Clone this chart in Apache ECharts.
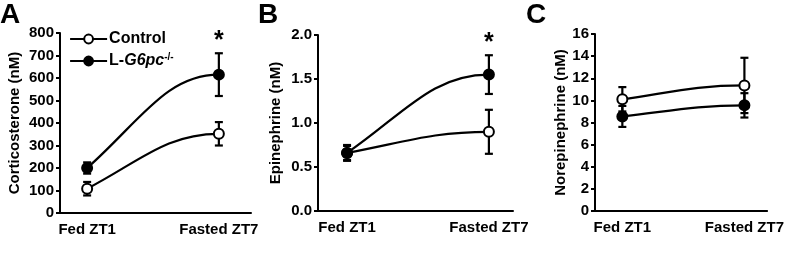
<!DOCTYPE html>
<html>
<head>
<meta charset="utf-8">
<script src="https://cdn.jsdelivr.net/npm/echarts@6/dist/echarts.min.js"></script>
<style>
  html, body { margin: 0; padding: 0; background: #fff; }
  #chart { width: 787px; height: 260px; }
</style>
</head>
<body>
<div id="chart"></div>
<script>
const categories = ["Fed ZT1", "Fasted ZT7"];

// panel A - corticosterone (nM)
const cortControl = [108, 352];
const cortControlErr = [30, 52];
const cortKO = [200, 615];
const cortKOErr = [25, 95];

// panel B - epinephrine (nM)
const epiControl = [0.66, 0.9];
const epiControlErr = [0.08, 0.25];
const epiKO = [0.66, 1.55];
const epiKOErr = [0.09, 0.22];

// panel C - norepinephrine (nM)
const noreControl = [10.1, 11.35];
const noreControlErr = [1.1, 2.5];
const noreKO = [8.55, 9.55];
const noreKOErr = [0.95, 1.1];

const yTicksA = { min: 0, max: 800, interval: 100 };
const yTicksB = { min: 0, max: 2, interval: 0.5 };
const yTicksC = { min: 0, max: 16, interval: 2 };

const FONT = "Liberation Sans, Arial, sans-serif";
const KO_NAME = "L-G6pc-/-";

const chart = echarts.init(document.getElementById("chart"));

const panels = [
  { letter: "A", grid: { left: 60, top: 33, width: 191, height: 180 }, xMin: -0.206, xMax: 1.244,
    yName: "Corticosterone (nM)", nameGap: 38, ticks: yTicksA, dec: 0,
    ctrl: cortControl, ctrlErr: cortControlErr, ko: cortKO, koErr: cortKOErr, star: true },
  { letter: "B", grid: { left: 318, top: 35, width: 195, height: 176 }, xMin: -0.205, xMax: 1.17,
    yName: "Epinephrine (nM)", nameGap: 35, ticks: yTicksB, dec: 1,
    ctrl: epiControl, ctrlErr: epiControlErr, ko: epiKO, koErr: epiKOErr, star: true },
  { letter: "C", grid: { left: 595, top: 34, width: 180, height: 177 }, xMin: -0.224, xMax: 1.186,
    yName: "Norepinephrine (nM)", nameGap: 26, ticks: yTicksC, dec: 0,
    ctrl: noreControl, ctrlErr: noreControlErr, ko: noreKO, koErr: noreKOErr, star: false },
];

const axisLine = { show: true, onZero: false, lineStyle: { color: "#000", width: 2 } };

function curveSeries(idx, vals) {
  return {
    type: "custom",
    xAxisIndex: idx,
    yAxisIndex: idx,
    z: 1,
    silent: true,
    data: vals.map((v, i) => [i, v]),
    renderItem: function (params, api) {
      if (params.dataIndex !== 0) return null;
      const p0 = api.coord([0, vals[0]]);
      const p1 = api.coord([1, vals[1]]);
      const dx = p1[0] - p0[0];
      const dy = p1[1] - p0[1];
      return {
        type: "bezierCurve",
        shape: {
          x1: p0[0], y1: p0[1], x2: p1[0], y2: p1[1],
          cpx1: p0[0] + 0.4 * dx, cpy1: p0[1] + 0.5 * dy,
          cpx2: p1[0] - 0.4 * dx, cpy2: p1[1],
        },
        style: { stroke: "#000", lineWidth: 2.2, fill: "none" },
      };
    },
  };
}

function errSeries(idx, vals, errs) {
  return {
    type: "custom",
    xAxisIndex: idx,
    yAxisIndex: idx,
    z: 2,
    silent: true,
    data: vals.map((v, i) => [i, v, errs[i]]),
    renderItem: function (params, api) {
      const x = api.value(0);
      const m = api.value(1);
      const e = api.value(2);
      const hi = api.coord([x, m + e]);
      const lo = api.coord([x, m - e]);
      const w = 4;
      const st = { stroke: "#000", lineWidth: 2.2 };
      return {
        type: "group",
        children: [
          { type: "line", shape: { x1: hi[0], y1: hi[1], x2: lo[0], y2: lo[1] }, style: st },
          { type: "line", shape: { x1: hi[0] - w, y1: hi[1], x2: hi[0] + w, y2: hi[1] }, style: st },
          { type: "line", shape: { x1: lo[0] - w, y1: lo[1], x2: lo[0] + w, y2: lo[1] }, style: st },
        ],
      };
    },
  };
}

function markerSeries(idx, name, vals, errs, filled, star) {
  const s = {
    type: "line",
    name: name,
    xAxisIndex: idx,
    yAxisIndex: idx,
    z: 3,
    silent: true,
    data: vals.map((v, i) => [i, v]),
    symbol: "circle",
    symbolSize: 10,
    showSymbol: true,
    lineStyle: { opacity: 0 },
    itemStyle: { color: filled ? "#000" : "#fff", borderColor: "#000", borderWidth: 2 },
    emphasis: { disabled: true },
  };
  if (star) {
    s.markPoint = {
      silent: true,
      symbol: "circle",
      symbolSize: 0,
      data: [{ coord: [1, vals[1] + errs[1]] }],
      label: {
        show: true,
        formatter: "*",
        fontFamily: FONT,
        fontSize: 25,
        fontWeight: "bold",
        color: "#000",
        offset: [0, -12],
      },
    };
  }
  return s;
}

const grids = [];
const xAxes = [];
const yAxes = [];
const series = [];
const titles = [];
const titleLeft = [0, 258, 526];

panels.forEach(function (p, i) {
  grids.push(p.grid);
  titles.push({
    text: p.letter,
    left: titleLeft[i],
    top: 1,
    padding: 0,
    textStyle: { fontFamily: FONT, fontSize: 28, fontWeight: "bold", color: "#000" },
  });
  xAxes.push({
    type: "value",
    gridIndex: i,
    min: p.xMin,
    max: p.xMax,
    axisLine: axisLine,
    axisTick: { show: false },
    splitLine: { show: false },
    axisLabel: {
      customValues: [0, 1],
      formatter: function (v) { return categories[Math.round(v)]; },
      color: "#000",
      fontFamily: FONT,
      fontWeight: "bold",
      fontSize: 15,
      margin: 9,
    },
  });
  yAxes.push({
    type: "value",
    gridIndex: i,
    min: p.ticks.min,
    max: p.ticks.max,
    interval: p.ticks.interval,
    axisLine: axisLine,
    axisTick: { show: true, length: 4, lineStyle: { color: "#000", width: 2 } },
    splitLine: { show: false },
    axisLabel: {
      color: "#000",
      fontFamily: FONT,
      fontWeight: "bold",
      fontSize: 15,
      margin: 6,
      formatter: function (v) { return v.toFixed(p.dec); },
    },
    name: p.yName,
    nameLocation: "middle",
    nameGap: p.nameGap,
    nameTextStyle: { color: "#000", fontFamily: FONT, fontWeight: "bold", fontSize: 15 },
  });
  series.push(curveSeries(i, p.ctrl));
  series.push(curveSeries(i, p.ko));
  series.push(errSeries(i, p.ctrl, p.ctrlErr));
  series.push(errSeries(i, p.ko, p.koErr));
  series.push(markerSeries(i, "Control", p.ctrl, p.ctrlErr, false, false));
  series.push(markerSeries(i, KO_NAME, p.ko, p.koErr, true, p.star));
});

chart.setOption({
  animation: false,
  backgroundColor: "#fff",
  title: titles,
  grid: grids,
  xAxis: xAxes,
  yAxis: yAxes,
  legend: {
    data: ["Control", KO_NAME],
    orient: "vertical",
    left: 69,
    top: 31,
    padding: 0,
    itemWidth: 37,
    itemHeight: 11,
    itemGap: 5,
    selectedMode: false,
    lineStyle: { color: "#000", width: 2.2, opacity: 1 },
    formatter: function (name) {
      return name === "Control" ? "{a|Control}" : "{a|L-}{b|G6pc}{c|-/-}";
    },
    textStyle: {
      padding: [0, 0, 0, -3],
      rich: {
        a: { fontFamily: FONT, fontSize: 16, fontWeight: "bold", color: "#000", lineHeight: 18 },
        b: { fontFamily: FONT, fontSize: 16, fontWeight: "bold", fontStyle: "italic", color: "#000", lineHeight: 18 },
        c: { fontFamily: FONT, fontSize: 10, fontWeight: "bold", color: "#000", verticalAlign: "top", lineHeight: 18, padding: [0, 0, 6, 0] },
      },
    },
  },
  series: series,
});
</script>
</body>
</html>
